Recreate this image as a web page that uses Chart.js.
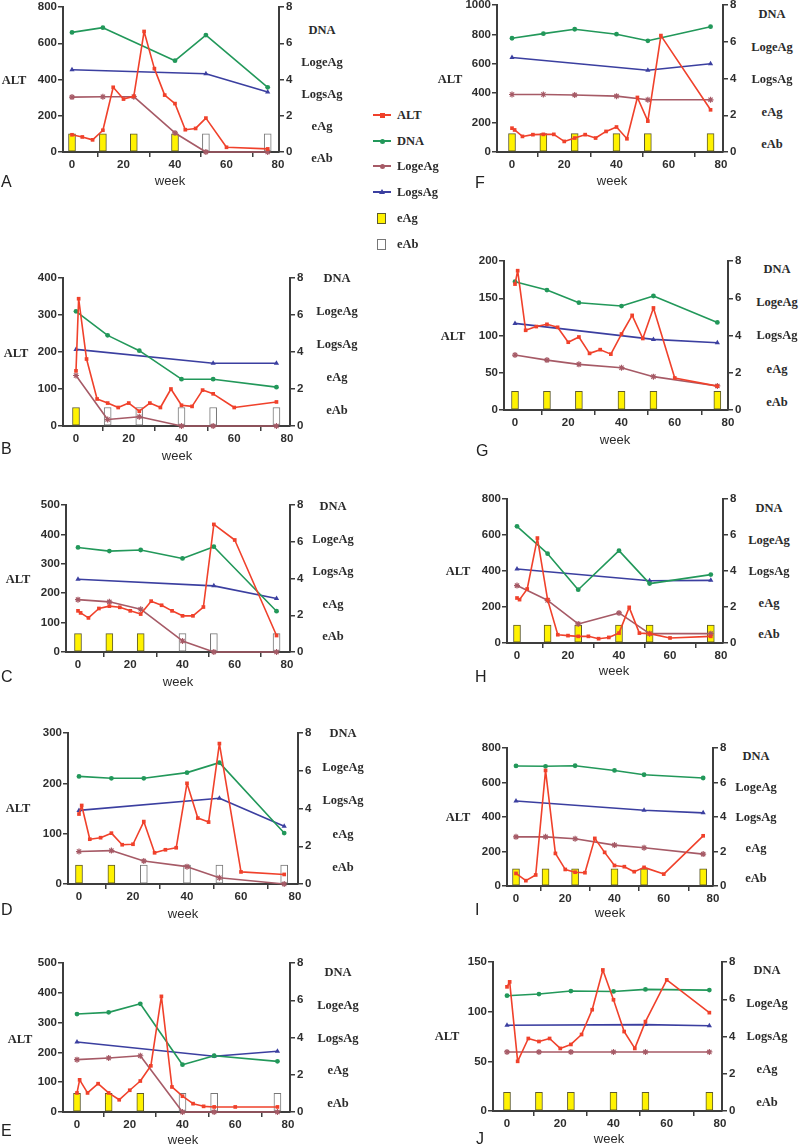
<!DOCTYPE html>
<html>
<head>
<meta charset="utf-8">
<script src="https://cdn.jsdelivr.net/npm/chart.js@4.4.1/dist/chart.umd.min.js"></script>
<style>
  body { margin: 0; background: #fff; }
  #page { position: relative; width: 800px; height: 1145px; overflow: hidden; background: #fff; }
  canvas { position: absolute; }
  .lab { position: absolute; font-family: "Liberation Serif", "Times New Roman", serif; font-weight: bold;
         font-size: 12.5px; color: #2b2b2b; transform: translate(-50%, -50%); white-space: nowrap; }
  .wk { position: absolute; font-family: "Liberation Sans", Arial, sans-serif; font-size: 13px; color: #2b2b2b;
        transform: translate(-50%, -50%); }
  .let { position: absolute; font-family: "Liberation Sans", Arial, sans-serif; font-size: 16px; color: #222;
         transform: translateY(-50%); }
  .leg { position: absolute; font-family: "Liberation Serif", serif; font-weight: bold; font-size: 12.5px; color: #2b2b2b; }
</style>
</head>
<body>
<div id="page"></div>
<script>
// shared axis / sampling values
const xTicks = [0, 20, 40, 60, 80];
const visitWeeks = [0, 12, 24, 40, 52, 76];
const sAgWeeks = [0, 52, 76];
const seroNames = ["DNA", "LogeAg", "LogsAg", "eAg", "eAb"];
const legendNames = ["ALT", "DNA", "LogeAg", "LogsAg", "eAg", "eAb"];

// A
const altWeeksA = [0, 4, 8, 12, 16, 20, 24, 28, 32, 36, 40, 44, 48, 52, 60, 76];
const altA = [95, 83, 67, 120, 357, 292, 307, 665, 460, 314, 267, 123, 130, 187, 26, 17];
const dnaWeeksA = [0, 12, 40, 52, 76];
const dnaA = [6.6, 6.86, 5.04, 6.45, 3.57];
const logeA = [3.03, 3.05, 3.05, 1.05, 0, 0];
const logsA = [4.54, 4.32, 3.31];
const eAgA = [0, 12, 24, 40];
const eAbA = [52, 76];

// B
const altWeeksB = [0, 1, 4, 8, 12, 16, 20, 24, 28, 32, 36, 40, 44, 48, 52, 60, 76];
const altB = [149, 344, 181, 73, 62, 50, 62, 40, 62, 50, 100, 56, 53, 97, 87, 50, 65];
const dnaB = [6.2, 4.9, 4.07, 2.53, 2.53, 2.1];
const logeB = [2.73, 0.35, 0.5, 0, 0, 0];
const logsB = [4.14, 3.39, 3.39];
const eAgB = [0];
const eAbB = [12, 24, 40, 52, 76];

// C
const altWeeksC = [0, 1, 4, 8, 12, 16, 20, 24, 28, 32, 36, 40, 44, 48, 52, 60, 76];
const altC = [140, 133, 116, 148, 156, 152, 140, 129, 173, 159, 140, 123, 123, 153, 434, 381, 56];
const dnaC = [5.69, 5.49, 5.55, 5.09, 5.73, 2.22];
const logeC = [2.85, 2.73, 2.33, 0.6, 0, 0];
const logsC = [3.96, 3.6, 2.91];
const eAgC = [0, 12, 24];
const eAbC = [40, 52, 76];

// D
const altWeeksD = [0, 1, 4, 8, 12, 16, 20, 24, 28, 32, 36, 40, 44, 48, 52, 60, 76];
const altD = [139, 156, 89, 92, 101, 78, 79, 124, 62, 68, 72, 200, 131, 123, 279, 24, 19];
const dnaD = [5.7, 5.6, 5.6, 5.9, 6.43, 2.7];
const logeD = [1.72, 1.77, 1.22, 0.92, 0.33, 0];
const logsD = [3.9, 4.54, 3.06];
const eAgD = [0, 12];
const eAbD = [24, 40, 52, 76];

// E
const altWeeksE = [0, 1, 4, 8, 12, 16, 20, 24, 28, 32, 36, 40, 44, 48, 52, 60, 76];
const altE = [64, 108, 64, 95, 64, 41, 73, 104, 155, 388, 84, 53, 28, 19, 17, 17, 17];
const dnaE = [5.26, 5.35, 5.81, 2.54, 3.02, 2.72];
const logeE = [2.81, 2.9, 3.02, 0, 0, 0];
const logsE = [3.76, 2.99, 3.26];
const eAgE = [0, 12, 24];
const eAbE = [40, 52, 76];

// F
const altWeeksF = [0, 1, 4, 8, 12, 16, 20, 24, 28, 32, 36, 40, 44, 48, 52, 57, 76];
const altF = [162, 150, 106, 118, 120, 120, 72, 95, 118, 95, 140, 170, 90, 371, 210, 792, 287];
const dnaF = [6.19, 6.44, 6.68, 6.41, 6.05, 6.82];
const logeF = [3.13, 3.13, 3.1, 3.04, 2.84, 2.84];
const logsF = [5.14, 4.45, 4.8];
const eAgF = [0, 12, 24, 40, 52, 76];
const eAbF = [];

// G
const altWeeksG = [0, 1, 4, 8, 12, 16, 20, 24, 28, 32, 36, 40, 44, 48, 52, 60, 76];
const altG = [169, 187, 107, 112, 115, 111, 91, 98, 76, 81, 75, 102, 127, 96, 137, 43, 32];
const dnaG = [6.89, 6.44, 5.76, 5.58, 6.12, 4.7];
const logeG = [2.95, 2.68, 2.45, 2.27, 1.79, 1.29];
const logsG = [4.65, 3.79, 3.61];
const eAgG = [0, 12, 24, 40, 52, 76];
const eAbG = [];

// H
const altWeeksH = [0, 1, 4, 8, 12, 16, 20, 24, 28, 32, 36, 40, 44, 48, 52, 60, 76];
const altH = [250, 241, 300, 583, 241, 46, 41, 37, 37, 24, 31, 55, 198, 55, 52, 28, 37];
const dnaH = [6.48, 4.96, 2.96, 5.13, 3.3, 3.8];
const logeH = [3.19, 2.37, 1.06, 1.67, 0.52, 0.52];
const logsH = [4.11, 3.46, 3.48];
const eAgH = [0, 12, 24, 40, 52, 76];
const eAbH = [];

// I
const altWeeksI = [0, 4, 8, 12, 16, 20, 24, 28, 32, 36, 40, 44, 48, 52, 60, 76];
const altI = [73, 31, 64, 670, 189, 96, 80, 77, 276, 195, 119, 112, 83, 108, 69, 291];
const dnaI = [6.96, 6.94, 6.97, 6.7, 6.45, 6.26];
const logeI = [2.85, 2.85, 2.74, 2.37, 2.22, 1.85];
const logsI = [4.93, 4.39, 4.24];
const eAgI = [0, 12, 24, 40, 52, 76];
const eAbI = [];

// J
const altWeeksJ = [0, 1, 4, 8, 12, 16, 20, 24, 28, 32, 36, 40, 44, 48, 52, 60, 76];
const altJ = [125, 130, 50, 73, 70, 73, 63, 67, 77, 102, 142, 112, 80, 63, 90, 132, 99];
const dnaJ = [6.19, 6.28, 6.44, 6.42, 6.53, 6.49];
const logeJ = [3.17, 3.17, 3.17, 3.17, 3.17, 3.17];
const logsJ = [4.6, 4.64, 4.58];
const eAgJ = [0, 12, 24, 40, 52, 76];
const eAbJ = [];

const RED = "#f0412b", GREEN = "#22985a", BROWN = "#a65a66", BLUE = "#3b3fa0";
const YEL = "#fff200", AX = "#3d3d3d", TXT = "#2e2e2e";

// panel placement (pixels) and the data each one uses
const panels = [
  { id: "A", L: 63, R: 279, T: 7, B: 152, x0: 72, x80: 278, yMax: 800, yStep: 200,
    altW: altWeeksA, alt: altA, dnaW: dnaWeeksA, dna: dnaA, loge: logeA, logs: logsA, eAg: eAgA, eAb: eAbA,
    ax: 14, ay: 80, rx: 322, ry: 30, rdy: 32, wx: 170, wy: 180, lx: 1, ly: 182 },
  { id: "F", L: 497, R: 723, T: 5, B: 152, x0: 512, x80: 721, yMax: 1000, yStep: 200,
    altW: altWeeksF, alt: altF, dnaW: visitWeeks, dna: dnaF, loge: logeF, logs: logsF, eAg: eAgF, eAb: eAbF,
    ax: 450, ay: 79, rx: 772, ry: 14, rdy: 32.5, wx: 612, wy: 180, lx: 475, ly: 183 },
  { id: "B", L: 63, R: 290, T: 278, B: 426, x0: 76, x80: 287, yMax: 400, yStep: 100,
    altW: altWeeksB, alt: altB, dnaW: visitWeeks, dna: dnaB, loge: logeB, logs: logsB, eAg: eAgB, eAb: eAbB,
    ax: 16, ay: 353, rx: 337, ry: 278, rdy: 33, wx: 177, wy: 455, lx: 1, ly: 449 },
  { id: "G", L: 504, R: 728, T: 261, B: 410, x0: 515, x80: 728, yMax: 200, yStep: 50,
    altW: altWeeksG, alt: altG, dnaW: visitWeeks, dna: dnaG, loge: logeG, logs: logsG, eAg: eAgG, eAb: eAbG,
    ax: 453, ay: 336, rx: 777, ry: 269, rdy: 33.2, wx: 615, wy: 439, lx: 476, ly: 451 },
  { id: "C", L: 66, R: 290, T: 505, B: 652, x0: 78, x80: 287, yMax: 500, yStep: 100,
    altW: altWeeksC, alt: altC, dnaW: visitWeeks, dna: dnaC, loge: logeC, logs: logsC, eAg: eAgC, eAb: eAbC,
    ax: 18, ay: 579, rx: 333, ry: 506, rdy: 32.5, wx: 178, wy: 681, lx: 1, ly: 677 },
  { id: "H", L: 507, R: 723, T: 499, B: 643, x0: 517, x80: 721, yMax: 800, yStep: 200,
    altW: altWeeksH, alt: altH, dnaW: visitWeeks, dna: dnaH, loge: logeH, logs: logsH, eAg: eAgH, eAb: eAbH,
    ax: 458, ay: 571, rx: 769, ry: 508, rdy: 31.5, wx: 614, wy: 670, lx: 475, ly: 677 },
  { id: "D", L: 68, R: 298, T: 733, B: 884, x0: 79, x80: 295, yMax: 300, yStep: 100,
    altW: altWeeksD, alt: altD, dnaW: visitWeeks, dna: dnaD, loge: logeD, logs: logsD, eAg: eAgD, eAb: eAbD,
    ax: 18, ay: 808, rx: 343, ry: 733, rdy: 33.5, wx: 183, wy: 913, lx: 1, ly: 910 },
  { id: "I", L: 507, R: 713, T: 748, B: 886, x0: 516, x80: 713, yMax: 800, yStep: 200,
    altW: altWeeksI, alt: altI, dnaW: visitWeeks, dna: dnaI, loge: logeI, logs: logsI, eAg: eAgI, eAb: eAbI,
    ax: 458, ay: 817, rx: 756, ry: 756, rdy: 30.5, wx: 610, wy: 912, lx: 475, ly: 910 },
  { id: "E", L: 63, R: 290, T: 963, B: 1112, x0: 77, x80: 288, yMax: 500, yStep: 100,
    altW: altWeeksE, alt: altE, dnaW: visitWeeks, dna: dnaE, loge: logeE, logs: logsE, eAg: eAgE, eAb: eAbE,
    ax: 20, ay: 1039, rx: 338, ry: 972, rdy: 32.8, wx: 183, wy: 1139, lx: 1, ly: 1131 },
  { id: "J", L: 493, R: 722, T: 962, B: 1111, x0: 507, x80: 720, yMax: 150, yStep: 50,
    altW: altWeeksJ, alt: altJ, dnaW: visitWeeks, dna: dnaJ, loge: logeJ, logs: logsJ, eAg: eAgJ, eAb: eAbJ,
    ax: 447, ay: 1036, rx: 767, ry: 970, rdy: 33, wx: 609, wy: 1138, lx: 476, ly: 1139 }
];

const page = document.getElementById("page");
const tickFont = { family: '"Liberation Sans", Arial, sans-serif', size: 11.5, weight: "bold" };

function addDiv(cls, text, x, y) {
  const d = document.createElement("div");
  d.className = cls;
  d.textContent = text;
  d.style.left = x + "px";
  d.style.top = y + "px";
  page.appendChild(d);
  return d;
}

function pts(ws, vs) {
  return ws.map((x, i) => ({ x: x, y: vs[i] }));
}
function presence(ws) {
  return ws.map(x => ({ x: x, y: 1 }));
}

function axisStyle() {
  return {
    grid: { display: true, drawOnChartArea: false, drawTicks: true, tickLength: 5, color: AX, lineWidth: 1.5 },
    border: { display: true, color: AX, width: 2 }
  };
}

function build(p) {
  const padL = 46, padR = 24, padT = 10, padB = 24;
  const w = p.R - p.L + padL + padR;
  const h = p.B - p.T + padT + padB;
  const cv = document.createElement("canvas");
  cv.width = w;
  cv.height = h;
  cv.style.left = (p.L - padL) + "px";
  cv.style.top = (p.T - padT) + "px";
  cv.style.width = w + "px";
  cv.style.height = h + "px";
  page.appendChild(cv);

  const span = p.x80 - p.x0;
  const xmin = (p.L - p.x0) / span * 80;
  const xmax = (p.R - p.x0) / span * 80;

  const lineBase = { borderWidth: 1.6, borderJoinStyle: "round", borderCapStyle: "round", clip: false };

  new Chart(cv, {
    type: "line",
    data: {
      datasets: [
        Object.assign({ label: "ALT", data: pts(p.altW, p.alt), yAxisID: "y", borderColor: RED, backgroundColor: RED,
          pointStyle: "rect", pointRadius: 2.6, pointBorderWidth: 0, order: 1 }, lineBase),
        Object.assign({ label: "DNA", data: pts(p.dnaW, p.dna), yAxisID: "y2", borderColor: GREEN, backgroundColor: GREEN,
          pointStyle: "circle", pointRadius: 2.4, pointBorderWidth: 0, order: 2 }, lineBase),
        Object.assign({ label: "LogsAg", data: pts(sAgWeeks, p.logs), yAxisID: "y2", borderColor: BLUE, backgroundColor: BLUE,
          pointStyle: "triangle", pointRadius: 3, pointBorderWidth: 0, order: 3 }, lineBase),
        Object.assign({ label: "LogeAg", data: pts(visitWeeks, p.loge), yAxisID: "y2", borderColor: BROWN, backgroundColor: BROWN,
          pointStyle: "star", pointRadius: 3, pointBorderWidth: 1.2, order: 4 }, lineBase),
        { type: "bar", label: "eAg", data: presence(p.eAg), yAxisID: "y2", backgroundColor: YEL,
          borderColor: "#5d5a2e", borderWidth: 1, borderSkipped: false, barThickness: 7, grouped: false, order: 10 },
        { type: "bar", label: "eAb", data: presence(p.eAb), yAxisID: "y2", backgroundColor: "#ffffff",
          borderColor: "#777777", borderWidth: 1, borderSkipped: false, barThickness: 7, grouped: false, order: 11 }
      ]
    },
    options: {
      responsive: false,
      animation: false,
      devicePixelRatio: 1,
      layout: { padding: { top: padT, left: 0, right: 0, bottom: 0 } },
      plugins: { legend: { display: false }, tooltip: { enabled: false } },
      elements: { line: { tension: 0 } },
      scales: {
        x: Object.assign(axisStyle(), {
          type: "linear", min: xmin, max: xmax, offset: false,
          afterBuildTicks: s => { s.ticks = xTicks.map(v => ({ value: v })); },
          afterFit: s => { s.height = padB; },
          ticks: { font: tickFont, color: TXT, padding: 1, maxRotation: 0, autoSkip: false, callback: v => String(v) }
        }),
        y: Object.assign(axisStyle(), {
          position: "left", min: 0, max: p.yMax,
          afterFit: s => { s.width = padL; },
          ticks: { stepSize: p.yStep, font: tickFont, color: TXT, padding: 1, callback: v => String(v) }
        }),
        y2: Object.assign(axisStyle(), {
          position: "right", min: 0, max: 8,
          afterFit: s => { s.width = padR; },
          ticks: { stepSize: 2, font: tickFont, color: TXT, padding: 2, callback: v => String(v) }
        })
      }
    }
  });

  addDiv("lab", "ALT", p.ax, p.ay);
  seroNames.forEach((n, i) => addDiv("lab", n, p.rx, p.ry + i * p.rdy));
  addDiv("wk", "week", p.wx, p.wy);
  addDiv("let", p.id, p.lx, p.ly);
}

panels.forEach(build);

// shared legend in the middle column
const legY = [115, 141, 166, 192, 218, 244];
const legColors = [RED, GREEN, BROWN, BLUE];
legendNames.forEach((n, i) => {
  const y = legY[i];
  if (i < 4) {
    const ln = document.createElement("div");
    ln.style.cssText = "position:absolute;left:373px;top:" + (y - 1) + "px;width:18px;height:2px;background:" + legColors[i];
    page.appendChild(ln);
    const mk = document.createElement("div");
    if (i === 3) {
      mk.style.cssText = "position:absolute;left:379px;top:" + (y - 3) + "px;width:0;height:0;border-left:3px solid transparent;border-right:3px solid transparent;border-bottom:5px solid " + BLUE;
    } else {
      mk.style.cssText = "position:absolute;left:380px;top:" + (y - 2) + "px;width:5px;height:5px;background:" + legColors[i] + (i > 0 ? ";border-radius:50%" : "");
    }
    page.appendChild(mk);
  } else {
    const bx = document.createElement("div");
    bx.style.cssText = "position:absolute;left:377px;top:" + (y - 5) + "px;width:7px;height:9px;border:1px solid " +
      (i === 4 ? "#5d5a2e;background:" + YEL : "#777;background:#fff");
    page.appendChild(bx);
  }
  const t = addDiv("leg", n, 397, y);
  t.style.transform = "translateY(-50%)";
});
</script>
</body>
</html>
